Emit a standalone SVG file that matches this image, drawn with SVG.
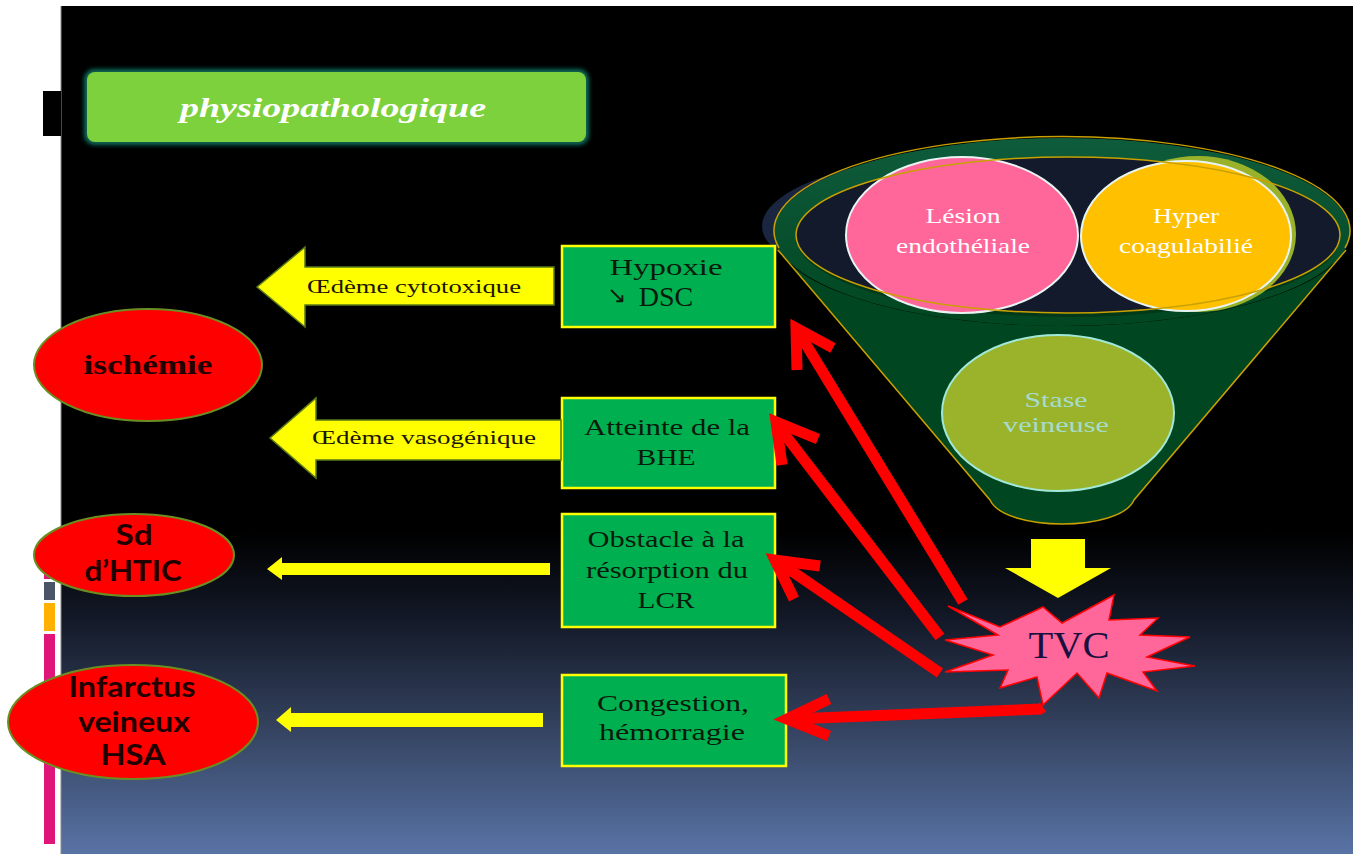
<svg xmlns="http://www.w3.org/2000/svg" width="1353" height="854" viewBox="0 0 1353 854">
<defs>
<linearGradient id="bg" gradientUnits="userSpaceOnUse" x1="0" y1="6" x2="0" y2="854">
<stop offset="0" stop-color="#000000"/>
<stop offset="0.62" stop-color="#000000"/>
<stop offset="0.72" stop-color="#121826"/>
<stop offset="0.85" stop-color="#34425f"/>
<stop offset="1" stop-color="#5873a5"/>
</linearGradient>
<linearGradient id="rim" x1="0" y1="0" x2="0" y2="1">
<stop offset="0" stop-color="#0e5c3c"/>
<stop offset="0.5" stop-color="#08502e"/>
<stop offset="1" stop-color="#004620"/>
</linearGradient>
<filter id="glow" x="-10%" y="-30%" width="120%" height="160%">
<feGaussianBlur stdDeviation="2"/>
</filter>
<style>
.box{fill:#00b050;stroke:#ffff00;stroke-width:2.5}
.red{fill:#ff0000;stroke:#6b8e23;stroke-width:2}
.ser{font-family:"Liberation Serif","DejaVu Serif",serif;fill:#0a1a0a;font-size:24px;text-anchor:middle}
.sans{font-family:Lato,"Liberation Sans",sans-serif;font-weight:bold;fill:#200000;font-size:28px;text-anchor:middle}
.ya{fill:#ffff00;stroke:#5a7a1a;stroke-width:1.5}
.rl{fill:none;stroke:#ff0000;stroke-width:11;stroke-linejoin:miter}
.wt{font-family:"Liberation Serif","DejaVu Serif",serif;fill:#ffffff;font-size:21px;text-anchor:middle}
</style>
</defs>
<rect x="0" y="0" width="1353" height="854" fill="#ffffff"/>
<rect x="61" y="6" width="1292" height="848" fill="url(#bg)"/>
<line x1="61" y1="6" x2="61" y2="854" stroke="#8a8a8a" stroke-width="1"/>
<rect x="43" y="91" width="18" height="45" fill="#000000"/>
<g id="sidebar">
<rect x="44" y="567" width="11" height="12" fill="#e0157a"/>
<rect x="44" y="582" width="11" height="18" fill="#4a5568"/>
<rect x="44" y="603" width="11" height="28" fill="#ffb000"/>
<rect x="44" y="634" width="11" height="210" fill="#e0157a"/>
</g>
<g id="title">
<rect x="84" y="69" width="505" height="76" rx="10" fill="#0e6a58" filter="url(#glow)"/>
<rect x="87" y="72" width="499" height="70" rx="8" fill="#7dd13c"/>
<text x="333" y="117" font-family="Liberation Serif,DejaVu Serif,serif" font-style="italic" font-weight="bold" font-size="27" fill="#ffffff" text-anchor="middle" textLength="306" lengthAdjust="spacingAndGlyphs">physiopathologique</text>
</g>
<g id="funnel">
<ellipse cx="1050" cy="226" rx="288" ry="80" fill="#1a2540"/>
<ellipse cx="1062" cy="232" rx="288" ry="94" fill="url(#rim)"/>
<path d="M778,250 L990,500 C1005,532 1120,532 1134,500 L1346,250 A288,94 0 0 1 1062,326 A288,94 0 0 1 778,250 Z" fill="#004620"/>
<path d="M778,250 L990,500 C1005,532 1120,532 1134,500 L1346,250" fill="none" stroke="#c8a000" stroke-width="1.5"/>
<path d="M779,248 A288,94 0 1 1 1345,248" fill="none" stroke="#c8a000" stroke-width="1.5"/>
<ellipse cx="1068" cy="237" rx="272" ry="80" fill="#00381a"/>
<ellipse cx="1068" cy="235" rx="272" ry="78" fill="#121a2c"/>
</g>
<g id="n-stase">
<ellipse cx="1058" cy="413" rx="116" ry="78" fill="#9bb22b" stroke="#a0e8d8" stroke-width="2"/>
<text class="wt" x="1056" y="407" style="fill:#a6dccb" textLength="63" lengthAdjust="spacingAndGlyphs">Stase</text>
<text class="wt" x="1056" y="432" style="fill:#a6dccb" textLength="106" lengthAdjust="spacingAndGlyphs">veineuse</text>
</g>
<g id="n-lesion">
<ellipse cx="962" cy="235" rx="116" ry="78" fill="#ff6699" stroke="#e8f4f4" stroke-width="2"/>
<text class="wt" x="963" y="223" textLength="75" lengthAdjust="spacingAndGlyphs">Lésion</text>
<text class="wt" x="963" y="253" textLength="134" lengthAdjust="spacingAndGlyphs">endothéliale</text>
</g>
<g id="n-hyper">
<ellipse cx="1198" cy="234" rx="98" ry="78" fill="#9ab22a"/>
<ellipse cx="1186" cy="236" rx="105" ry="75" fill="#ffc000" stroke="#e8f4f4" stroke-width="2"/>
<text class="wt" x="1186" y="223" textLength="66" lengthAdjust="spacingAndGlyphs">Hyper</text>
<text class="wt" x="1186" y="253" textLength="134" lengthAdjust="spacingAndGlyphs">coagulabilié</text>
</g>
<ellipse cx="1068" cy="235" rx="272" ry="78" fill="none" stroke="#c8a000" stroke-width="1.5"/>
<g id="n-ischemie">
<ellipse class="red" cx="148" cy="365" rx="114" ry="56"/>
<text x="148" y="374" font-family="Liberation Serif,DejaVu Serif,serif" font-weight="bold" font-size="27" fill="#200000" text-anchor="middle" textLength="129" lengthAdjust="spacingAndGlyphs">ischémie</text>
</g>
<g id="n-htic">
<ellipse class="red" cx="134" cy="555" rx="100" ry="41"/>
<text class="sans" x="134" y="545" textLength="37" lengthAdjust="spacingAndGlyphs">Sd</text>
<text class="sans" x="133" y="581" textLength="97" lengthAdjust="spacingAndGlyphs">d’HTIC</text>
</g>
<g id="n-infarctus">
<ellipse class="red" cx="133" cy="722" rx="125" ry="57"/>
<text class="sans" x="132" y="697" textLength="127" lengthAdjust="spacingAndGlyphs">Infarctus</text>
<text class="sans" x="134" y="732" textLength="112" lengthAdjust="spacingAndGlyphs">veineux</text>
<text class="sans" x="133" y="765" textLength="65" lengthAdjust="spacingAndGlyphs">HSA</text>
</g>
<g id="n-hypoxie">
<rect class="box" x="562" y="246" width="213" height="81"/>
<text class="ser" x="666" y="275" textLength="113" lengthAdjust="spacingAndGlyphs">Hypoxie</text>
<text class="ser"><tspan x="617" y="303" font-size="23" font-family="DejaVu Sans,sans-serif">↘</tspan><tspan x="666" y="306" font-size="28">DSC</tspan></text>
</g>
<g id="n-atteinte">
<rect class="box" x="562" y="398" width="213" height="90"/>
<text class="ser" x="667" y="435" textLength="166" lengthAdjust="spacingAndGlyphs">Atteinte de la</text>
<text class="ser" x="666" y="465" textLength="59" lengthAdjust="spacingAndGlyphs">BHE</text>
</g>
<g id="n-obstacle">
<rect class="box" x="562" y="514" width="213" height="113"/>
<text class="ser" x="666" y="547" textLength="157" lengthAdjust="spacingAndGlyphs">Obstacle à la</text>
<text class="ser" x="667" y="578" textLength="162" lengthAdjust="spacingAndGlyphs">résorption du</text>
<text class="ser" x="666" y="608" textLength="57" lengthAdjust="spacingAndGlyphs">LCR</text>
</g>
<g id="n-congestion">
<rect class="box" x="562" y="675" width="224" height="91"/>
<text class="ser" x="673" y="711" textLength="152" lengthAdjust="spacingAndGlyphs">Congestion,</text>
<text class="ser" x="672" y="740" textLength="146" lengthAdjust="spacingAndGlyphs">hémorragie</text>
</g>
<g id="n-tvc">
<polygon points="948,606 1000,627 1043,607 1062,623 1114,595 1109,620 1158,618 1140,635 1190,637 1147,657 1195,666 1143,672 1157,691 1107,673 1099,698 1077,673 1043,705 1037,677 1000,688 1008,670 945,672 993,655 945,640 998,635" fill="#ff6699" stroke="#ff0000" stroke-width="1.5"/>
<text x="1069" y="658" font-family="Liberation Serif,DejaVu Serif,serif" font-size="37" fill="#1a1040" text-anchor="middle" textLength="81" lengthAdjust="spacingAndGlyphs">TVC</text>
</g>
<g id="connectors">
<polygon class="ya" points="554,267 305,267 305,247 257,287 305,327 305,305 554,305"/>
<text x="414" y="293" font-family="Liberation Serif,DejaVu Serif,serif" font-size="19" fill="#1a1400" text-anchor="middle" textLength="214" lengthAdjust="spacingAndGlyphs">Œdème cytotoxique</text>
<polygon class="ya" points="561,420 316,420 316,398 270,438 316,478 316,460 561,460"/>
<text x="424" y="444" font-family="Liberation Serif,DejaVu Serif,serif" font-size="19" fill="#1a1400" text-anchor="middle" textLength="224" lengthAdjust="spacingAndGlyphs">Œdème vasogénique</text>
<polygon points="550,563 282,563 282,557 267,569 282,580 282,575 550,575" fill="#ffff00"/>
<polygon points="543,713 291,713 291,707 276,720 291,732 291,727 543,727" fill="#ffff00"/>
<polygon points="1031,539 1085,539 1085,568 1111,568 1058,598 1005,568 1031,568" fill="#ffff00"/>
<line class="rl" x1="963" y1="602" x2="799" y2="333"/>
<polyline class="rl" points="833,348 796,328 797,370"/>
<line class="rl" x1="940" y1="637" x2="779" y2="427"/>
<polyline class="rl" points="818,439 776,422 782,465"/>
<line class="rl" x1="940" y1="673" x2="780" y2="563"/>
<polyline class="rl" points="820,566 775,560 794,599"/>
<polyline class="rl" points="1043,707 1040,709 792,719"/>
<polyline class="rl" points="829,699 787,719 829,736"/>
</g>
</svg>
